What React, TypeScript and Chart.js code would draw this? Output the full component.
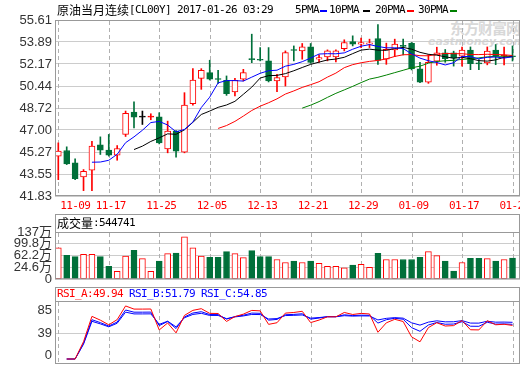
import React, { useEffect, useRef } from "react";
import { Chart, registerables } from "chart.js";

Chart.register(...registerables);

// ---------- data ----------
const TITLE_CN = "原油当月连续";
const TITLE_EN = "[CL00Y] 2017-01-26 03:29";
const DATE_LABELS = ["11-09", "11-17", "11-25", "12-05", "12-13", "12-21", "12-29", "01-09", "01-17", "01-25"];
const DATE_INDEX = [0, 6, 12, 18, 24, 30, 36, 42, 48, 54];

const OPEN = [44.95, 45.39, 44.42, 43.32, 43.85, 45.84, 45.42, 45.02, 46.65, 48.40,
  48.01, 48.00, 48.03, 45.52, 46.91, 45.26, 49.06, 51.04, 51.49, 51.00,
  50.89, 49.97, 50.97, 52.56, 52.51, 52.41, 50.84, 51.15, 53.27, 53.19,
  53.50, 52.54, 52.72, 52.72, 53.37, 53.92, 53.71, 53.71, 54.16, 52.54,
  53.27, 53.60, 53.78, 51.78, 50.75, 52.38, 53.03, 53.03, 52.77, 53.25,
  52.22, 52.25, 53.25, 52.78, 52.77];
const HIGH = [45.99, 45.68, 44.74, 43.90, 46.12, 46.46, 46.65, 45.78, 48.48, 49.21,
  48.48, 48.27, 48.35, 47.69, 46.95, 49.92, 51.80, 51.80, 52.46, 51.67,
  51.23, 51.04, 51.75, 54.50, 53.45, 53.45, 51.36, 53.19, 53.58, 53.77,
  53.77, 52.88, 53.27, 53.27, 54.06, 54.37, 54.19, 54.11, 55.25, 53.80,
  54.11, 54.11, 53.85, 52.30, 52.90, 53.48, 53.30, 53.17, 53.48, 53.50,
  52.51, 53.50, 53.69, 53.48, 53.58];
const LOW = [43.11, 44.29, 43.11, 42.25, 42.25, 45.08, 44.95, 44.63, 46.49, 47.17,
  47.43, 47.80, 45.91, 45.21, 44.87, 45.21, 48.95, 50.18, 50.91, 50.65,
  49.71, 49.66, 50.84, 52.27, 52.41, 50.76, 50.00, 50.44, 52.41, 52.54,
  52.22, 52.28, 52.41, 52.33, 53.19, 53.58, 53.45, 53.45, 52.14, 52.14,
  52.74, 52.87, 51.70, 50.70, 50.65, 52.07, 52.30, 52.00, 51.99, 51.72,
  51.72, 52.10, 52.11, 52.10, 52.40];
const CLOSE = [45.34, 44.34, 43.19, 43.77, 45.73, 45.42, 45.02, 45.55, 48.30, 48.01,
  48.01, 48.03, 45.99, 46.91, 45.34, 48.95, 50.91, 51.67, 50.97, 50.95,
  49.84, 50.89, 51.49, 52.51, 52.46, 50.84, 51.10, 53.06, 53.22, 53.50,
  52.28, 52.67, 53.19, 53.19, 53.85, 53.71, 53.85, 53.82, 52.45, 53.32,
  53.72, 53.55, 51.78, 50.75, 52.30, 53.03, 52.59, 52.64, 53.25, 52.20,
  52.18, 53.17, 52.77, 52.82, 52.73];
const VOLUME = [873000, 632000, 591000, 663000, 663000, 591000, 278000, 121000, 610000, 788000,
  528000, 121000, 444000, 685000, 704000, 1218000, 873000, 610000, 569000, 569000,
  748000, 685000, 560000, 779000, 591000, 591000, 497000, 403000, 444000, 403000,
  444000, 372000, 278000, 278000, 234000, 318000, 340000, 246000, 694000, 497000,
  497000, 497000, 497000, 569000, 748000, 622000, 444000, 130000, 403000, 538000,
  538000, 528000, 444000, 497000, 544741];

const PRICE_TICKS = [41.83, 43.55, 45.27, 47.0, 48.72, 50.44, 52.17, 53.89, 55.61];
const PRICE_LABELS = ["41.83", "43.55", "45.27", "47.00", "48.72", "50.44", "52.17", "53.89", "55.61"];
const VOL_TICKS = [-130000, 246000, 622000, 998000, 1374000];
const VOL_LABELS = ["0", "24.6万", "62.2万", "99.8万", "137万"];
const RSI_TICKS = [0, 39, 85];
const RSI_LABELS = ["0", "39", "85"];

const MA_PERIODS = [5, 10, 20, 30];
const MA_NAMES = ["5PMA", "10PMA", "20PMA", "30PMA"];
const RSI_PERIODS = [6, 12, 24];
const RSI_NAMES = ["RSI_A", "RSI_B", "RSI_C"];
const RSI_LAST = ["49.94", "51.79", "54.85"];
const VOL_NAME = "成交量";
const VOL_LAST = "544741";

// ---------- style ----------
const RED = "#ff0000";
const GREEN = "#00703a";
const MA_COLORS = ["#0000ff", "#000000", "#ff0000", "#008000"];
const RSI_COLORS = ["#ff0000", "#0000ff", "#0000ff"];
const GRID = "#cccccc";
const DASH_GRID = "#b0b0b0";
const FRAME = "#999999";
const LABEL = "#333333";
const MONO = '"DejaVu Sans Mono", monospace';
const CJK = '"Noto Sans CJK SC", sans-serif';
const AXIS_FAMILY = '"Liberation Sans", "Noto Sans CJK SC", sans-serif';
const AXIS_SIZE = 13;

const X_MIN = -0.392;
const X_MAX = 54.89;

// ---------- derived indicators ----------
function movingAverage(values: number[], n: number) {
  return values.map((_, i) => {
    if (i < n - 1) return null;
    let s = 0;
    for (let k = i - n + 1; k <= i; k++) s += values[k];
    return s / n;
  });
}
function rsiSeries(values: number[], n: number) {
  let up = 0;
  let ab = 0;
  return values.map((v, i) => {
    if (i === 0) return null;
    const d = v - values[i - 1];
    up = (Math.max(d, 0) + (n - 1) * up) / n;
    ab = (Math.abs(d) + (n - 1) * ab) / n;
    return ab === 0 ? 50 : (up / ab) * 100;
  });
}

const idx = CLOSE.map((_, i) => i);
const candleColor = (i: number) => (CLOSE[i] > OPEN[i] ? RED : CLOSE[i] < OPEN[i] ? GREEN : "#000000");
const bodyFill = (i: number) => {
  if (CLOSE[i] > OPEN[i]) return CLOSE[i] - OPEN[i] < 0.1 ? RED : "#ffffff";
  return candleColor(i);
};
const volUp = (i: number) => CLOSE[i] >= OPEN[i];

// dashed vertical grid at the date ticks, drawn before the datasets
function dateGridPlugin() {
  return {
    id: "dateGrid",
    beforeDatasetsDraw(chart: any) {
      const { ctx, chartArea: a } = chart;
      const xs = chart.scales.x;
      ctx.save();
      ctx.fillStyle = DASH_GRID;
      const y0 = Math.round(a.top) + 1;
      const y1 = Math.round(a.bottom) - 1;
      for (const v of DATE_INDEX) {
        const px = Math.round(xs.getPixelForValue(v));
        for (let y = y0; y < y1; y += 7) {
          ctx.fillRect(px, y, 1, Math.min(4, y1 - y));
        }
      }
      ctx.restore();
    },
  };
}

// frame, optional date labels, optional clamped y labels
function panelPlugin(strip: number, drawDates: boolean, clampTicks?: { ticks: number[]; labels: string[] }) {
  return {
    id: "panel" + strip,
    afterDraw(chart: any) {
      const { ctx, chartArea: a } = chart;
      const xs = chart.scales.x;
      ctx.save();
      ctx.strokeStyle = FRAME;
      ctx.lineWidth = 1;
      const top = a.top - strip;
      ctx.strokeRect(a.left + 0.5, top + 0.5, a.right - a.left - 1, a.bottom - top - 1);
      if (strip > 0) {
        ctx.beginPath();
        ctx.moveTo(a.left, a.top + 0.5);
        ctx.lineTo(a.right, a.top + 0.5);
        ctx.stroke();
      }
      if (drawDates) {
        ctx.fillStyle = RED;
        ctx.font = "11px " + MONO;
        ctx.textBaseline = "middle";
        ctx.textAlign = "left";
        DATE_INDEX.forEach((v, k) => {
          const px = xs.getPixelForValue(v);
          const text = DATE_LABELS[k];
          const x = k === 0 ? px + 2 : px - 13;
          for (let c = 0; c < text.length; c++) {
            ctx.fillText(text[c], x + c * 6, a.bottom + 10);
          }
        });
      }
      if (clampTicks) {
        const ys = chart.scales.y;
        ctx.fillStyle = LABEL;
        ctx.font = AXIS_SIZE + "px " + AXIS_FAMILY;
        ctx.textBaseline = "middle";
        ctx.textAlign = "right";
        clampTicks.ticks.forEach((v, k) => {
          const py = Math.min(Math.max(ys.getPixelForValue(v), a.top + 9), a.bottom - 9);
          ctx.fillText(clampTicks.labels[k], a.left - 3, py);
        });
      }
      ctx.restore();
    },
  };
}

function xScale(height: number) {
  return {
    type: "linear" as const,
    min: X_MIN,
    max: X_MAX,
    offset: false,
    afterFit: (s: any) => {
      s.height = height;
    },
    ticks: { display: false },
    grid: { display: false, offset: false },
    border: { display: false },
  };
}
function yScale(min: number, max: number, ticks: number[], labels: string[], gridColor?: any, showLabels = true) {
  return {
    min,
    max,
    afterBuildTicks: (s: any) => {
      s.ticks = ticks.map((v) => ({ value: v }));
    },
    afterFit: (s: any) => {
      s.width = 55;
    },
    ticks: {
      display: showLabels,
      autoSkip: false,
      padding: 3,
      color: LABEL,
      font: { family: AXIS_FAMILY, size: AXIS_SIZE },
      callback: (_v: any, i: number) => labels[i],
    },
    grid: { color: gridColor || GRID, drawTicks: false },
    border: { display: false },
  };
}

function useChart(ref: React.RefObject<HTMLCanvasElement>, make: () => any) {
  useEffect(() => {
    const chart = new Chart(ref.current as HTMLCanvasElement, make());
    return () => chart.destroy();
  }, []);
}

function mainConfig() {
  const lines = MA_PERIODS.map((p, k) => {
    const ma = movingAverage(CLOSE, p);
    return {
      type: "line",
      data: idx.map((i) => ({ x: i, y: ma[i] })),
      borderColor: MA_COLORS[k],
      borderWidth: 1,
      pointRadius: 0,
      order: 1,
    };
  });
  return {
    type: "bar",
    data: {
      datasets: [
        ...lines,
        {
          type: "bar",
          data: idx.map((i) => ({ x: i, y: [OPEN[i], CLOSE[i]] })),
          backgroundColor: idx.map(bodyFill),
          borderColor: idx.map(candleColor),
          borderWidth: 1,
          borderSkipped: false,
          barThickness: 6,
          minBarLength: 1,
          grouped: false,
          order: 5,
        },
        {
          type: "bar",
          data: idx.map((i) => ({ x: i, y: [LOW[i], HIGH[i]] })),
          backgroundColor: idx.map(candleColor),
          borderWidth: 0,
          barThickness: 1,
          grouped: false,
          order: 6,
        },
      ],
    },
    options: {
      responsive: false,
      animation: false,
      layout: { padding: { top: 20, right: 0, bottom: 0, left: 0 } },
      plugins: { legend: { display: false }, tooltip: { enabled: false } },
      scales: {
        x: xScale(18),
        y: yScale(41.83, 55.61, PRICE_TICKS, PRICE_LABELS),
      },
    },
    plugins: [dateGridPlugin(), panelPlugin(0, true)],
  };
}

function volumeConfig() {
  return {
    type: "bar",
    data: {
      datasets: [
        {
          data: idx.map((i) => ({ x: i, y: VOLUME[i] })),
          backgroundColor: idx.map((i) => (volUp(i) ? "#ffffff" : GREEN)),
          borderColor: idx.map((i) => (volUp(i) ? RED : GREEN)),
          borderWidth: 1,
          borderSkipped: false,
          barThickness: 6,
          base: VOL_TICKS[0],
        },
      ],
    },
    options: {
      responsive: false,
      animation: false,
      layout: { padding: { top: 18, right: 0, bottom: 9, left: 0 } },
      plugins: { legend: { display: false }, tooltip: { enabled: false } },
      scales: {
        x: xScale(0),
        y: yScale(VOL_TICKS[0], VOL_TICKS[VOL_TICKS.length - 1], VOL_TICKS, VOL_LABELS),
      },
    },
    plugins: [dateGridPlugin(), panelPlugin(18, false)],
  };
}

function rsiConfig() {
  const sets = RSI_PERIODS.map((p, k) => {
    const r = rsiSeries(CLOSE, p);
    return {
      type: "line",
      data: idx.map((i) => ({ x: i, y: r[i] })),
      borderColor: RSI_COLORS[k],
      borderWidth: 1,
      pointRadius: 0,
    };
  });
  return {
    type: "line",
    data: { datasets: sets },
    options: {
      responsive: false,
      animation: false,
      layout: { padding: { top: 14, right: 0, bottom: 13, left: 0 } },
      plugins: { legend: { display: false }, tooltip: { enabled: false } },
      scales: {
        x: xScale(0),
        y: yScale(
          -7.5,
          87,
          RSI_TICKS,
          RSI_LABELS,
          (c: any) => (c.tick && c.tick.value === RSI_TICKS[1] ? GRID : "rgba(0,0,0,0)"),
          false
        ),
      },
    },
    plugins: [dateGridPlugin(), panelPlugin(14, false, { ticks: RSI_TICKS, labels: RSI_LABELS })],
  };
}

const Txt = ({ x, y, color = "#000", cjk = false, children }: any) => (
  <span
    style={{
      position: "absolute",
      left: x,
      top: y - 8,
      height: 16,
      lineHeight: "16px",
      fontSize: cjk ? 12 : 11,
      fontFamily: cjk ? CJK : MONO,
      letterSpacing: cjk ? 0 : -0.62,
      color,
      whiteSpace: "nowrap",
    }}
  >
    {children}
  </span>
);

const Dash = ({ x, color }: any) => (
  <div style={{ position: "absolute", left: x, top: 10, width: 7, height: 2, background: color }} />
);

export default function App() {
  const mainRef = useRef<HTMLCanvasElement>(null);
  const volRef = useRef<HTMLCanvasElement>(null);
  const rsiRef = useRef<HTMLCanvasElement>(null);
  useChart(mainRef, mainConfig);
  useChart(volRef, volumeConfig);
  useChart(rsiRef, rsiConfig);

  const maX = [295, 329, 375, 418];
  const maDashX = [320, 363, 407, 450];
  const rsiX = [57, 129, 201];

  return (
    <div
      style={{
        position: "absolute",
        left: 0,
        top: 0,
        width: 520,
        height: 365,
        overflow: "hidden",
        background: "#ffffff",
      }}
    >
      <div style={{ position: "absolute", left: 450, top: 19, fontSize: 15, fontWeight: "bold", fontFamily: CJK, color: "#d8d8d8", letterSpacing: -1, lineHeight: "18px", whiteSpace: "nowrap" }}>
        东方财富网
      </div>
      <div style={{ position: "absolute", left: 428, top: 36, fontSize: 11, fontWeight: "bold", fontStyle: "italic", fontFamily: '"DejaVu Sans", sans-serif', color: "#d8d8d8", lineHeight: "11px", whiteSpace: "nowrap" }}>
        eastmoney.com
      </div>
      <canvas ref={mainRef} width={520} height={214} style={{ position: "absolute", left: 0, top: 0, width: 520, height: 214 }} />
      <canvas ref={volRef} width={520} height={76} style={{ position: "absolute", left: 0, top: 214, width: 520, height: 76 }} />
      <canvas ref={rsiRef} width={520} height={90} style={{ position: "absolute", left: 0, top: 287, width: 520, height: 90 }} />

      <Txt x={57} y={10} cjk>{TITLE_CN}</Txt>
      <Txt x={129} y={10}>{TITLE_EN}</Txt>
      {MA_NAMES.map((n, k) => (
        <React.Fragment key={n}>
          <Txt x={maX[k]} y={10}>{n}</Txt>
          <Dash x={maDashX[k]} color={MA_COLORS[k]} />
        </React.Fragment>
      ))}

      <Txt x={57} y={223} cjk>{VOL_NAME}</Txt>
      <Txt x={93} y={223}>{":" + VOL_LAST}</Txt>

      {RSI_NAMES.map((n, k) => (
        <Txt key={n} x={rsiX[k]} y={294} color={RSI_COLORS[k]}>
          {n + ":" + RSI_LAST[k]}
        </Txt>
      ))}
    </div>
  );
}
